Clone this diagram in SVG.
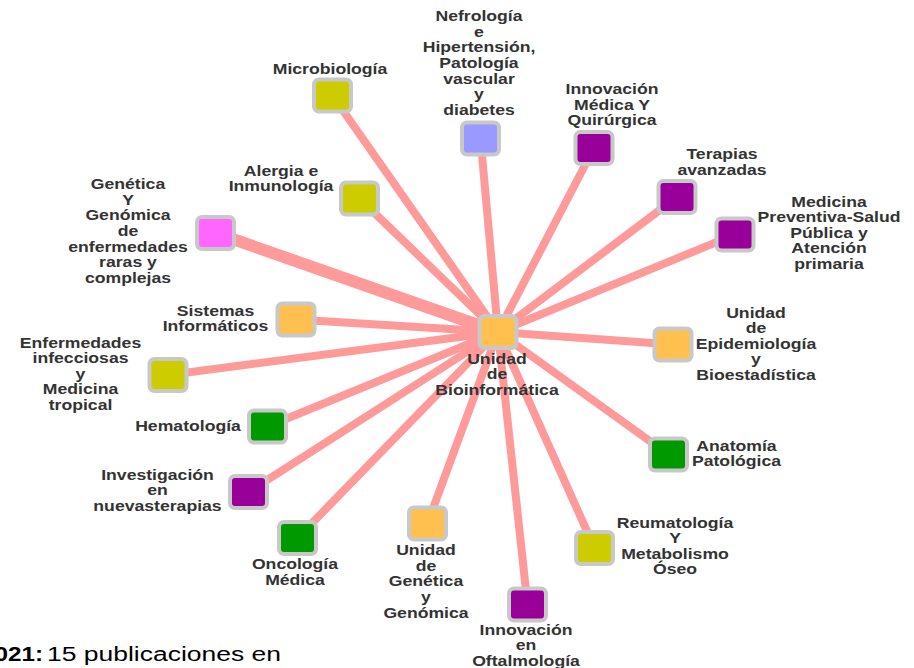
<svg xmlns="http://www.w3.org/2000/svg" width="914" height="668" viewBox="0 0 914 668">
<style>
.bg{fill:#ffffff}
.e{stroke:#ff9a9a;stroke-width:8;stroke-linecap:butt;fill:none}
.n{stroke:#c8c8c8;stroke-width:4}
.ol{fill:#cccc00}.pu{fill:#990099}.gr{fill:#009900}.or{fill:#ffc050}.la{fill:#9999ff}.pk{fill:#ff66ff}
.lb{font-family:"Liberation Sans",Arial,sans-serif;font-weight:bold;font-size:14px;fill:#333333;text-anchor:middle}
.ft{font-family:"Liberation Sans",Arial,sans-serif;font-size:20px;fill:#000000}
</style>
<rect class="bg" x="0" y="0" width="914" height="668"/>
<g id="connectors">
<line class="e" x1="498" y1="332" x2="332.5" y2="95.5"/>
<line class="e" x1="498" y1="332" x2="480.5" y2="138.5"/>
<line class="e" x1="498" y1="332" x2="594" y2="148"/>
<line class="e" x1="498" y1="332" x2="677" y2="197"/>
<line class="e" x1="498" y1="332" x2="735" y2="234.5"/>
<line class="e" x1="498" y1="332" x2="673" y2="344.5"/>
<line class="e" x1="498" y1="332" x2="668.5" y2="454.5"/>
<line class="e" x1="498" y1="332" x2="594.5" y2="548"/>
<line class="e" x1="498" y1="332" x2="527.5" y2="604.5"/>
<line class="e" x1="498" y1="332" x2="427.5" y2="523.5"/>
<line class="e" x1="498" y1="332" x2="297.5" y2="538"/>
<line class="e" x1="498" y1="332" x2="248.5" y2="492"/>
<line class="e" x1="498" y1="332" x2="267.5" y2="426.5"/>
<line class="e" x1="498" y1="332" x2="168" y2="375"/>
<line class="e" x1="498" y1="332" x2="296" y2="319.5"/>
<line class="e" x1="498" y1="332" x2="215.5" y2="233" style="stroke-width:12"/>
<line class="e" x1="498" y1="332" x2="359.5" y2="198.5"/>
</g>
<g id="microbiologia">
<rect class="n ol" x="314" y="79.5" width="37" height="32" rx="5"/>
<text class="lb" transform="translate(330,0) scale(1.26,1)"><tspan x="0" y="74">Microbiología</tspan></text>
</g>
<g id="nefrologia">
<rect class="n la" x="462" y="122.5" width="37" height="32" rx="5"/>
<text class="lb" transform="translate(479,0) scale(1.26,1)"><tspan x="0" y="21">Nefrología</tspan><tspan x="0" y="36.7">e</tspan><tspan x="0" y="52.4">Hipertensión,</tspan><tspan x="0" y="68.1">Patología</tspan><tspan x="0" y="83.8">vascular</tspan><tspan x="0" y="99.5">y</tspan><tspan x="0" y="115.2">diabetes</tspan></text>
</g>
<g id="innovacion-medica">
<rect class="n pu" x="575.5" y="132" width="37" height="32" rx="5"/>
<text class="lb" transform="translate(612,0) scale(1.26,1)"><tspan x="0" y="94.5">Innovación</tspan><tspan x="0" y="110">Médica Y</tspan><tspan x="0" y="125.5">Quirúrgica</tspan></text>
</g>
<g id="terapias">
<rect class="n pu" x="658.5" y="181" width="37" height="32" rx="5"/>
<text class="lb" transform="translate(722,0) scale(1.26,1)"><tspan x="0" y="159.5">Terapias</tspan><tspan x="0" y="175">avanzadas</tspan></text>
</g>
<g id="medicina-preventiva">
<rect class="n pu" x="716.5" y="218.5" width="37" height="32" rx="5"/>
<text class="lb" transform="translate(829,0) scale(1.26,1)"><tspan x="0" y="207">Medicina</tspan><tspan x="0" y="222.5">Preventiva-Salud</tspan><tspan x="0" y="238">Pública y</tspan><tspan x="0" y="253.5">Atención</tspan><tspan x="0" y="269">primaria</tspan></text>
</g>
<g id="epidemiologia">
<rect class="n or" x="654.5" y="328.5" width="37" height="32" rx="5"/>
<text class="lb" transform="translate(756,0) scale(1.26,1)"><tspan x="0" y="318">Unidad</tspan><tspan x="0" y="333.5">de</tspan><tspan x="0" y="349">Epidemiología</tspan><tspan x="0" y="364.5">y</tspan><tspan x="0" y="380">Bioestadística</tspan></text>
</g>
<g id="anatomia">
<rect class="n gr" x="650" y="438.5" width="37" height="32" rx="5"/>
<text class="lb" transform="translate(736.5,0) scale(1.26,1)"><tspan x="0" y="451">Anatomía</tspan><tspan x="0" y="466.5">Patológica</tspan></text>
</g>
<g id="reumatologia">
<rect class="n ol" x="576" y="532" width="37" height="32" rx="5"/>
<text class="lb" transform="translate(675,0) scale(1.26,1)"><tspan x="0" y="528">Reumatología</tspan><tspan x="0" y="543.5">Y</tspan><tspan x="0" y="559">Metabolismo</tspan><tspan x="0" y="574.5">Óseo</tspan></text>
</g>
<g id="oftalmologia">
<rect class="n pu" x="509" y="588.5" width="37" height="32" rx="5"/>
<text class="lb" transform="translate(526,0) scale(1.26,1)"><tspan x="0" y="635">Innovación</tspan><tspan x="0" y="650.5">en</tspan><tspan x="0" y="666">Oftalmología</tspan></text>
</g>
<g id="genetica-genomica">
<rect class="n or" x="409" y="507.5" width="37" height="32" rx="5"/>
<text class="lb" transform="translate(426,0) scale(1.26,1)"><tspan x="0" y="555">Unidad</tspan><tspan x="0" y="570.7">de</tspan><tspan x="0" y="586.4">Genética</tspan><tspan x="0" y="602">y</tspan><tspan x="0" y="617.7">Genómica</tspan></text>
</g>
<g id="oncologia">
<rect class="n gr" x="279" y="522" width="37" height="32" rx="5"/>
<text class="lb" transform="translate(295,0) scale(1.26,1)"><tspan x="0" y="569">Oncología</tspan><tspan x="0" y="585">Médica</tspan></text>
</g>
<g id="investigacion">
<rect class="n pu" x="230" y="476" width="37" height="32" rx="5"/>
<text class="lb" transform="translate(157.5,0) scale(1.26,1)"><tspan x="0" y="480">Investigación</tspan><tspan x="0" y="495.5">en</tspan><tspan x="0" y="511">nuevasterapias</tspan></text>
</g>
<g id="hematologia">
<rect class="n gr" x="249" y="410.5" width="37" height="32" rx="5"/>
<text class="lb" transform="translate(188,0) scale(1.26,1)"><tspan x="0" y="431">Hematología</tspan></text>
</g>
<g id="enfermedades">
<rect class="n ol" x="149.5" y="359" width="37" height="32" rx="5"/>
<text class="lb" transform="translate(80.5,0) scale(1.26,1)"><tspan x="0" y="348">Enfermedades</tspan><tspan x="0" y="363.5">infecciosas</tspan><tspan x="0" y="379">y</tspan><tspan x="0" y="394.5">Medicina</tspan><tspan x="0" y="410">tropical</tspan></text>
</g>
<g id="sistemas">
<rect class="n or" x="277.5" y="303.5" width="37" height="32" rx="5"/>
<text class="lb" transform="translate(215.5,0) scale(1.26,1)"><tspan x="0" y="316">Sistemas</tspan><tspan x="0" y="331">Informáticos</tspan></text>
</g>
<g id="genetica-raras">
<rect class="n pk" x="197" y="217" width="37" height="32" rx="5"/>
<text class="lb" transform="translate(128,0) scale(1.26,1)"><tspan x="0" y="189">Genética</tspan><tspan x="0" y="204.7">Y</tspan><tspan x="0" y="220.4">Genómica</tspan><tspan x="0" y="236">de</tspan><tspan x="0" y="251.7">enfermedades</tspan><tspan x="0" y="267.4">raras y</tspan><tspan x="0" y="283">complejas</tspan></text>
</g>
<g id="alergia">
<rect class="n ol" x="341" y="182.5" width="37" height="32" rx="5"/>
<text class="lb" transform="translate(281,0) scale(1.26,1)"><tspan x="0" y="176">Alergia e</tspan><tspan x="0" y="191.5">Inmunología</tspan></text>
</g>
<g id="bioinformatica">
<rect class="n or" x="479.5" y="316" width="37" height="32" rx="5"/>
<text class="lb" transform="translate(497,0) scale(1.26,1)"><tspan x="0" y="364">Unidad</tspan><tspan x="0" y="379.5">de</tspan><tspan x="0" y="395">Bioinformática</tspan></text>
</g>
<g id="footer">
<text class="ft" x="-19" y="661" font-weight="bold" textLength="62" lengthAdjust="spacingAndGlyphs">2021:</text>
<text class="ft" x="47" y="661" textLength="234" lengthAdjust="spacingAndGlyphs">15 publicaciones en</text>
</g>
</svg>
